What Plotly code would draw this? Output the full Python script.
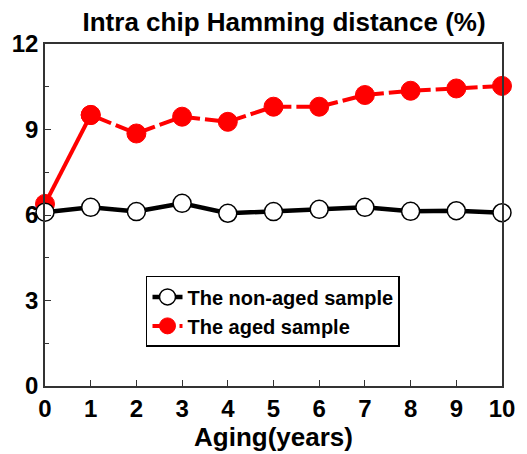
import plotly.graph_objects as go

years = [0, 1, 2, 3, 4, 5, 6, 7, 8, 9, 10]
non_aged = [6.10, 6.27, 6.12, 6.41, 6.06, 6.12, 6.20, 6.27, 6.13, 6.15, 6.08]
aged = [6.39, 9.51, 8.86, 9.45, 9.27, 9.80, 9.80, 10.21, 10.36, 10.44, 10.53]
x_ticks = list(range(0, 11))
y_ticks = [0, 3, 6, 9, 12]

RED = "#ff0000"
red_marker = dict(color=RED, size=19, line=dict(color=RED, width=1))

fig = go.Figure()
# first segment of the aged series is drawn solid in the original
fig.add_trace(go.Scatter(
    x=years[:2], y=aged[:2], mode="lines+markers", showlegend=False,
    line=dict(color=RED, width=4), marker=red_marker, cliponaxis=False,
))
fig.add_trace(go.Scatter(
    x=years[1:], y=aged[1:], name="<b>The aged sample</b>", mode="lines+markers",
    line=dict(color=RED, width=4, dash="22px,5px,20px,0px"),
    marker=red_marker, legendrank=2, cliponaxis=False,
))
fig.add_trace(go.Scatter(
    x=years, y=non_aged, name="<b>The non-aged sample</b>", mode="lines+markers",
    line=dict(color="#000000", width=4.5),
    marker=dict(color="white", size=18, line=dict(color="black", width=1.5)),
    legendrank=1, cliponaxis=False,
))

font = "Arial, Liberation Sans, sans-serif"
fig.update_layout(
    width=527, height=454,
    margin=dict(l=45, r=21, t=44, b=68),
    paper_bgcolor="white", plot_bgcolor="white",
    font=dict(family=font, color="black"),
    title=dict(text="<b>Intra chip Hamming distance (%)</b>", x=0.539, xanchor="center",
               y=0.952, yanchor="middle", font=dict(size=26, family=font, color="black")),
    showlegend=True,
    legend=dict(x=0.221, y=0.322, xanchor="left", yanchor="top",
                bordercolor="black", borderwidth=1.5, bgcolor="white",
                font=dict(size=20, family=font, color="black"),
                tracegroupgap=0, itemwidth=30),
    xaxis=dict(range=[0, 10], tickvals=x_ticks, ticktext=[f"<b>{v}</b>" for v in x_ticks],
               ticks="inside", ticklen=6, tickwidth=1, tickcolor="#333",
               showline=True, linecolor="#333", linewidth=1.5, mirror=True,
               showgrid=False, zeroline=False,
               tickfont=dict(size=24, family=font, color="black"),
               title=dict(text="<b>Aging(years)</b>", font=dict(size=26, family=font, color="black"), standoff=0)),
    yaxis=dict(range=[0, 12], tickvals=y_ticks, ticktext=[f"<b>{v}</b>" for v in y_ticks],
               ticks="inside", ticklen=6, tickwidth=1, tickcolor="#333",
               showline=True, linecolor="#333", linewidth=1.5, mirror=True,
               showgrid=False, zeroline=False,
               minor=dict(tickvals=[1.5, 4.5, 7.5, 10.5], ticks="inside", ticklen=4, tickcolor="#333"),
               tickfont=dict(size=24, family=font, color="black")),
)

fig.write_html("out.html")
